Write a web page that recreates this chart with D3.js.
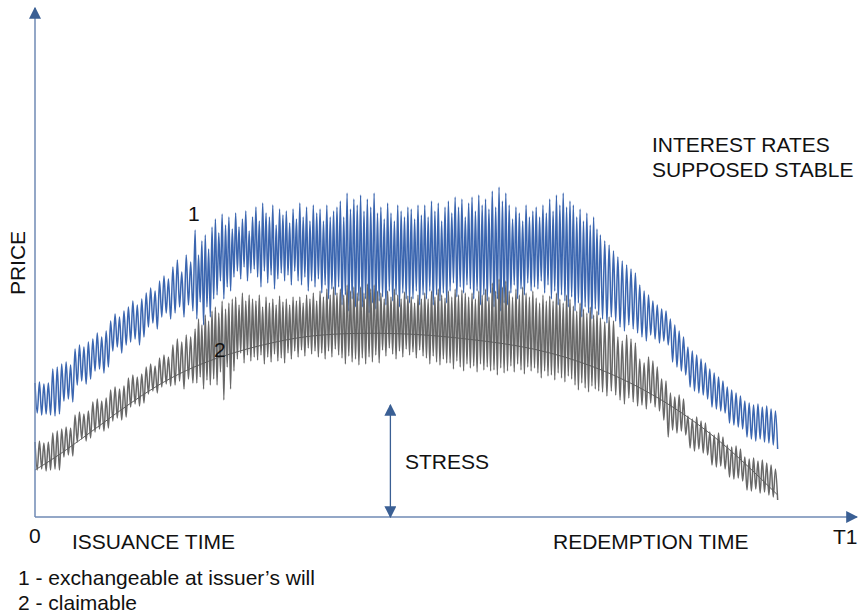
<!DOCTYPE html>
<html lang="en">
<head>
    <meta charset="UTF-8">
    <title>Price over time</title>
    <script src="https://d3js.org/d3.v7.min.js"></script>
    <style>
        body{
            margin: 0;
            background: white;
        }
        text{
            font-family: "Liberation Sans", Arial, sans-serif;
            font-size: 21px;
            fill: #111;
        }
    </style>
</head>
<body>
<script>

    const width = 858
    const height = 614

    // time (0 = issuance, 100 = end of axis) where the oscillations get denser / sparser again,
    // and where both price lines stop
    const cycleBreaks = [0, 36, 156, 196.5]
    const cycleTimes = [0, 19.6, 69.2, 90.9]

    // 1 - exchangeable at issuer's will : peak / trough of every oscillation
    const blueHigh = [134,135,133,134, 148,150, 153,155,152, 168,172,170,175, 178,184,180,186,
        196,203,200,206, 210,216,212,218, 224,229,226, 236,241,238, 250,257,245,262,255,
        287,262,276,282,268,290, 298,284,303,292,300,288, 304,290,298,306,286,300,
        310,296,314,304,300,312,292,308,302, 306,294,308,298, 314,300,310,296,312,304,
        308,296,312,300,306,310, 316,300,324,308,318,312, 322,306,318,310,324,304,
        310,298,314,304,296,312,306,300,310, 308,298,312,302, 312,300,316,306,314,296,310,
        316,304,320,310,318,300,314, 320,306,322,312,318,308, 326,310,330,316,324,
        312,298,310,304,296,312,300,306, 310,300,312,304, 318,306,322,312,324,310,316,
        312,300,308,296,304,292,300,288,
        282,276,272,266, 260,256,252,248,244, 232,226,222,216,212, 208,206, 198,192,186,180,
        170,166,162,158,154, 148,144,140,136, 130,127,124,121, 116,114,112,113,110,111,108,106]
    const blueLow = [104,102,103,102, 101,103, 116,118,115, 132,136,133,138, 146,148,144,150,
        166,170,164,172, 175,178,172,180, 190,194,188, 200,204,198, 204,210,200,212,206,
        198,215,192,210,200,218, 222,236,218,230,226,240, 246,238,250,236,244,248,
        240,230,246,234,242,228,238,244,236, 242,232,246,236, 232,240,226,236,230,238,
        224,232,218,228,222,230, 212,222,206,218,210,216, 210,218,204,214,208,216,
        220,212,226,216,222,210,224,218,214, 218,226,212,222, 218,226,212,222,216,224,214,
        226,234,220,230,224,232,228, 218,226,212,222,216,224, 210,218,206,214,212,
        224,232,218,228,222,234,226,230, 228,236,224,232, 218,226,212,222,216,210,220,
        206,214,200,210,204,198,208,202,
        198,194,200,196, 190,186,192,188,184, 180,176,182,178,174, 176,172, 155,150,146,142,
        130,126,124,122,118, 110,108,106,104, 94,92,90,88, 80,78,76,78,75,74,72,68]

    // 2 - claimable
    const greyHigh = [75,76,74,75, 84,86, 88,90,89, 102,105,103,106, 115,118,116,119,
        127,130,128,131, 139,142,140,143, 150,153,151, 159,162,160, 172,178,175,182,180,
        188,198,192,202,196,206, 210,204,216,208,214,218, 220,212,224,216,222,218,
        216,222,210,220,214,218,212,221,215, 218,212,220,216, 220,214,222,218,224,216,
        226,220,228,222,230,224, 228,222,232,226,230,224, 230,224,233,228,232,226,
        224,218,226,220,228,222,218,225,221, 220,214,222,218, 224,218,226,220,228,222,219,
        226,220,228,222,227,224,220, 224,218,226,222,228,220, 234,226,238,230,236,
        226,220,228,222,230,224,220,226, 219,214,222,216, 221,216,224,218,214,222,218,
        211,206,214,208,204,210,202,206,
        199,195,200,196, 180,176,182,178,174, 158,154,160,156,150, 138,136, 124,120,122,118,
        101,98,100,96,94, 85,82,84,80, 72,70,71,68, 60,58,59,56,57,54,52,48]
    const greyLow = [47,48,46,47, 48,47, 60,62,61, 75,78,76,79, 85,88,86,89,
        96,99,97,100, 110,113,111,114, 123,126,124, 130,133,131, 132,136,128,138,134,
        134,140,128,137,132,138, 132,145,117,150,128,146, 158,164,154,162,156,160,
        157,162,153,160,155,163,156,159,154, 164,158,166,160, 167,161,169,163,166,160,
        164,158,166,160,168,162, 159,153,161,155,158,152, 159,153,160,155,162,154,
        167,161,169,163,158,166,160,168,162, 165,159,167,161, 159,153,161,155,152,158,154,
        154,148,156,150,146,153,149, 151,145,153,147,150,146, 147,142,149,144,146,
        151,145,153,147,143,150,146,149, 144,139,146,141, 142,137,144,139,135,141,138,
        132,127,134,129,125,131,128,126,
        125,121,126,122, 117,113,119,115,111, 112,108,114,110,106, 97,80, 87,84,86,82,
        69,66,68,64,62, 52,50,51,48, 40,38,39,36, 27,26,28,24,25,22,20,17]

    // smooth trend of the claimable price
    const trendTime = [0, 3, 8, 15, 22, 30, 36, 46, 53, 61, 69, 76.5, 84, 90.9]
    const trendPrice = [47, 62, 92, 134, 160, 177, 184, 184, 178, 170, 150, 120, 77, 22]

    // stress arrow: time and price span
    const stressTime = 43.5
    const stressPrice = [0, 112]

    const svg = d3.select("body").append("svg")
        .attr("width", width)
        .attr("height", height)

    const x = d3.scaleLinear().domain([0, 100]).range([35, 852])
    const y = d3.scaleLinear().domain([0, 500]).range([517, 17])
    const cycleToTime = d3.scaleLinear().domain(cycleBreaks).range(cycleTimes)

    // arrow heads
    const defs = svg.append("defs")
    defs.append("marker")
        .attr("id", "head")
        .attr("viewBox", "0 0 10 10")
        .attr("refX", 9).attr("refY", 5)
        .attr("markerWidth", 12).attr("markerHeight", 12)
        .attr("markerUnits", "userSpaceOnUse")
        .attr("orient", "auto-start-reverse")
        .append("path")
        .attr("d", "M0,0 L10,5 L0,10 Z")
        .attr("fill", "#3a5f94")

    // turn peak / trough lists into points along time
    function oscillation(high, low) {
        const pts = []
        high.forEach((h, i) => {
            pts.push([cycleToTime(i), h])
            pts.push([cycleToTime(i + 0.5), low[i]])
        })
        return pts
    }

    const line = d3.line()
        .x(d => x(d[0]))
        .y(d => y(d[1]))
        .curve(d3.curveMonotoneX)

    svg.append("path")
        .attr("d", line(oscillation(blueHigh, blueLow)))
        .attr("fill", "none")
        .attr("stroke", "#3b66b0")
        .attr("stroke-width", 1.5)

    svg.append("path")
        .attr("d", line(oscillation(greyHigh, greyLow)))
        .attr("fill", "none")
        .attr("stroke", "#686868")
        .attr("stroke-width", 1.5)

    svg.append("path")
        .attr("d", d3.line().x(d => x(d[0])).y(d => y(d[1])).curve(d3.curveBasis)(trendTime.map((t, i) => [t, trendPrice[i]])))
        .attr("fill", "none")
        .attr("stroke", "#5e5e5e")
        .attr("stroke-width", 1)

    // axes
    svg.append("line")
        .attr("x1", x(0)).attr("y1", y(0))
        .attr("x2", x(0)).attr("y2", 8)
        .attr("stroke", "#6f8ab5").attr("stroke-width", 1.5)
        .attr("marker-end", "url(#head)")

    svg.append("line")
        .attr("x1", x(0)).attr("y1", y(0))
        .attr("x2", 857).attr("y2", y(0))
        .attr("stroke", "#6f8ab5").attr("stroke-width", 1.5)
        .attr("marker-end", "url(#head)")

    // stress arrow
    svg.append("line")
        .attr("x1", x(stressTime)).attr("y1", y(stressPrice[0]))
        .attr("x2", x(stressTime)).attr("y2", y(stressPrice[1]))
        .attr("stroke", "#3a5f94").attr("stroke-width", 1.3)
        .attr("marker-start", "url(#head)")
        .attr("marker-end", "url(#head)")

    // texts
    const labels = [
        {t: "PRICE", x: 25, y: 263, rot: true},
        {t: "0", x: 29, y: 543},
        {t: "ISSUANCE TIME", x: 72, y: 549},
        {t: "REDEMPTION TIME", x: 553, y: 549},
        {t: "T1", x: 833, y: 544},
        {t: "INTEREST RATES", x: 652, y: 152},
        {t: "SUPPOSED STABLE", x: 652, y: 177},
        {t: "STRESS", x: 405, y: 469},
        {t: "1", x: 188, y: 221},
        {t: "2", x: 214, y: 357},
        {t: "1 - exchangeable at issuer\u2019s will", x: 18, y: 585},
        {t: "2 - claimable", x: 18, y: 610}
    ]

    labels.forEach(d => {
        const txt = svg.append("text").text(d.t)
        if (d.rot) {
            txt.attr("transform", `translate(${d.x},${d.y}) rotate(-90)`)
               .attr("text-anchor", "middle")
        } else {
            txt.attr("x", d.x).attr("y", d.y)
        }
    })

</script>
</body>
</html>
